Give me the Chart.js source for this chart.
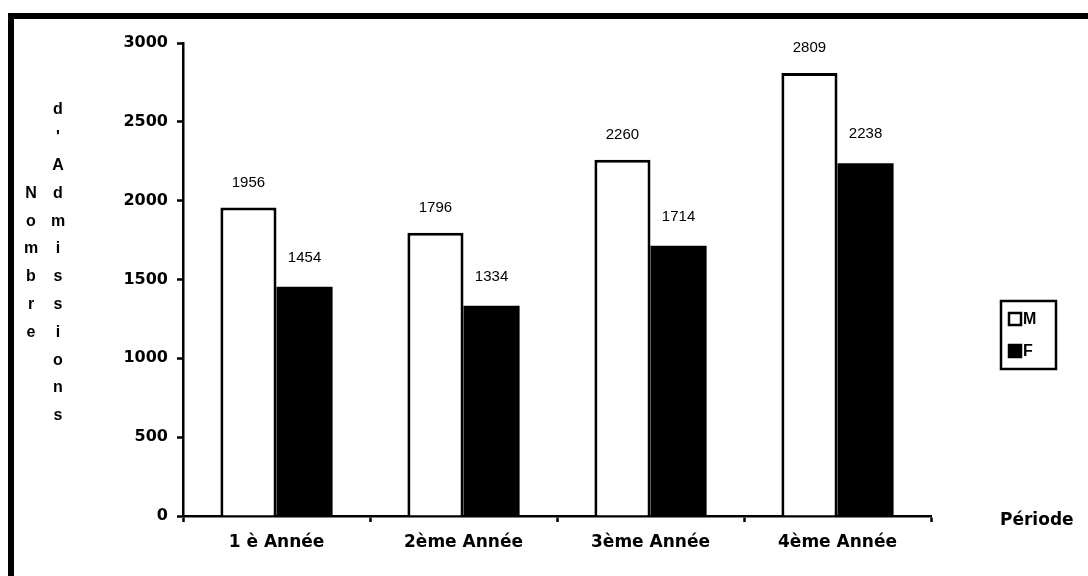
<!DOCTYPE html>
<html lang="fr">
<head>
<meta charset="utf-8">
<title>Nombre d'admissions par période</title>
<script src="https://cdn.jsdelivr.net/npm/chart.js@4.4.1/dist/chart.umd.min.js"></script>
<style>
  html, body { margin: 0; padding: 0; background: #fff; }
  #chart { display: block; }
</style>
</head>
<body>
<canvas id="chart" width="1088" height="576"></canvas>
<script>
// données
const annees = ["1 è Année", "2ème Année", "3ème Année", "4ème Année"];
const hommes = [1956, 1796, 2260, 2809];
const femmes = [1454, 1334, 1714, 2238];
const ticksY = [0, 500, 1000, 1500, 2000, 2500, 3000];

const titreY1 = "Nombre";
const titreY2 = "d'Admissions";
const titreX = "Période";

const NOIR = "#000";

// cadre, titres et légende dessinés à la main
const decor = {
  id: "decor",
  beforeDraw(chart) {
    const ctx = chart.ctx;
    ctx.save();
    ctx.fillStyle = "#fff";
    ctx.fillRect(0, 0, chart.width, chart.height);
    ctx.fillStyle = NOIR;
    ctx.fillRect(8, 13, chart.width - 8, 6);
    ctx.fillRect(8, 13, 6, chart.height - 13);
    ctx.restore();
  },
  afterDraw(chart) {
    const ctx = chart.ctx;
    ctx.save();
    ctx.fillStyle = NOIR;

    // titre vertical, une lettre par ligne
    ctx.font = "bold 16px 'Liberation Sans', Arial, sans-serif";
    ctx.textAlign = "center";
    ctx.textBaseline = "middle";
    const pas = 27.8, y0 = 110;
    titreY2.split("").forEach((c, i) => ctx.fillText(c, 58, y0 + i * pas));
    titreY1.split("").forEach((c, i) => ctx.fillText(c, 31, y0 + (i + 3) * pas));

    // titre de l'axe x
    ctx.font = "bold 17px 'DejaVu Sans', sans-serif";
    ctx.textAlign = "left";
    ctx.fillText(titreX, 1000, 521);

    // légende
    const lx = 1001, ly = 301, lw = 55, lh = 68;
    ctx.lineWidth = 2.5;
    ctx.strokeStyle = NOIR;
    ctx.strokeRect(lx, ly, lw, lh);
    ctx.font = "bold 16px 'Liberation Sans', Arial, sans-serif";
    chart.data.datasets.forEach((ds, i) => {
      const cy = ly + 18 + i * 32;
      ctx.fillStyle = ds.backgroundColor;
      ctx.fillRect(lx + 8, cy - 6, 12, 12);
      ctx.lineWidth = 2.5;
      ctx.strokeRect(lx + 8, cy - 6, 12, 12);
      ctx.fillStyle = NOIR;
      ctx.fillText(ds.label, lx + 22, cy + 1);
    });
    ctx.restore();
  },
  afterDatasetsDraw(chart) {
    // valeurs au-dessus des barres
    const ctx = chart.ctx;
    ctx.save();
    ctx.fillStyle = NOIR;
    ctx.font = "15px 'Liberation Sans', Arial, sans-serif";
    ctx.textAlign = "center";
    ctx.textBaseline = "middle";
    chart.data.datasets.forEach((ds, i) => {
      const decal = i === 0 ? 25 : 29;
      chart.getDatasetMeta(i).data.forEach((bar, j) => {
        ctx.fillText(String(ds.data[j]), bar.x, bar.y - decal);
      });
    });
    ctx.restore();
  }
};

new Chart(document.getElementById("chart"), {
  type: "bar",
  data: {
    labels: annees,
    datasets: [
      {
        label: "M",
        data: hommes,
        backgroundColor: "#fff",
        borderColor: NOIR,
        borderWidth: 3,
        borderSkipped: "bottom"
      },
      {
        label: "F",
        data: femmes,
        backgroundColor: NOIR,
        borderColor: NOIR,
        borderWidth: 0
      }
    ]
  },
  options: {
    responsive: false,
    animation: false,
    layout: { padding: { left: 0, top: 43, right: 157, bottom: 0 } },
    datasets: { bar: { categoryPercentage: 0.6, barPercentage: 1.0 } },
    plugins: {
      legend: { display: false },
      tooltip: { enabled: false }
    },
    scales: {
      x: {
        offset: true,
        afterFit(scale) { scale.height = 60; },
        border: { display: true, color: NOIR, width: 2.5 },
        grid: {
          display: true,
          offset: true,
          drawOnChartArea: false,
          drawTicks: true,
          tickLength: 6,
          tickWidth: 2.5,
          tickColor: NOIR
        },
        ticks: {
          color: NOIR,
          padding: 10,
          maxRotation: 0,
          font: { family: "'DejaVu Sans', sans-serif", size: 17, weight: "bold" }
        }
      },
      y: {
        min: 0,
        max: 3000,
        afterFit(scale) { scale.width = 183; },
        afterBuildTicks(scale) { scale.ticks = ticksY.map(v => ({ value: v })); },
        border: { display: true, color: NOIR, width: 2.5 },
        grid: {
          display: true,
          drawOnChartArea: false,
          drawTicks: true,
          tickLength: 6,
          tickWidth: 2.5,
          tickColor: NOIR
        },
        ticks: {
          color: NOIR,
          padding: 9,
          callback: (v) => String(v),
          font: { family: "'DejaVu Sans', sans-serif", size: 16, weight: "bold" }
        }
      }
    }
  },
  plugins: [decor]
});
</script>
</body>
</html>
